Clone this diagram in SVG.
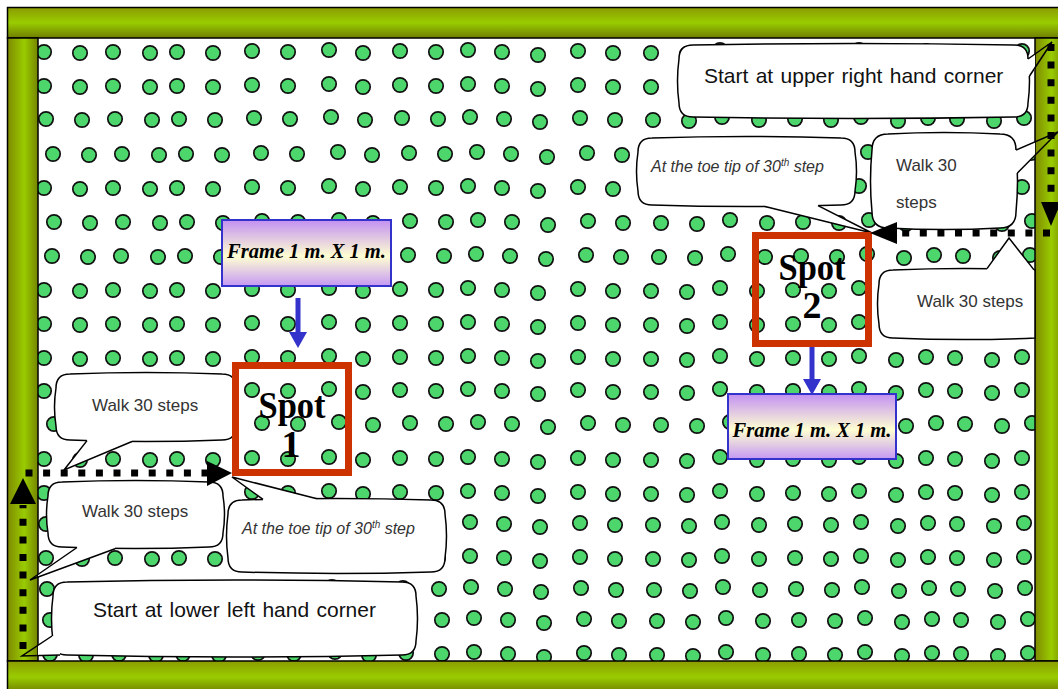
<svg xmlns="http://www.w3.org/2000/svg" width="1058" height="689" viewBox="0 0 1058 689">
<style>
.d{fill:#4cd66c;stroke:#111;stroke-width:1.7}
.bub{fill:#fff;stroke:#000;stroke-width:1.5}
.tf{fill:#fff;stroke:none}
.ts{fill:none;stroke:#000;stroke-width:1.5}
.t1{font-family:"Liberation Sans",Arial,sans-serif;font-size:21px;fill:#111;word-spacing:1.5px}
.t2{font-family:"Liberation Sans",Arial,sans-serif;font-size:17px;fill:#333}
.t3{font-family:"Liberation Sans",Arial,sans-serif;font-size:16px;font-style:italic;fill:#333}
.spot{fill:none;stroke:#cc3300;stroke-width:7}
.st{font-family:"Liberation Serif","Times New Roman",serif;font-weight:bold;font-size:38px;text-anchor:middle;fill:#000}
.fr{fill:url(#gF);stroke:#3333cc;stroke-width:2}
.ft{font-family:"Liberation Serif","Times New Roman",serif;font-weight:bold;font-style:italic;font-size:20.5px;text-anchor:middle;fill:#000}
.dash{stroke:#000;stroke-width:7;stroke-dasharray:7 10.6;fill:none}
.blue{stroke:#3333cc;stroke-width:5;fill:none}
.bar{stroke:#000;stroke-width:1.5}
</style>
<defs>
<linearGradient id="gV" x1="0" y1="0" x2="0" y2="1"><stop offset="0" stop-color="#8c9c00"/><stop offset="0.5" stop-color="#99cc00"/><stop offset="1" stop-color="#6f7d00"/></linearGradient>
<linearGradient id="gH" x1="0" y1="0" x2="1" y2="0"><stop offset="0" stop-color="#7f8a00"/><stop offset="0.55" stop-color="#99cc00"/><stop offset="1" stop-color="#758400"/></linearGradient>
<linearGradient id="gF" x1="0" y1="0" x2="0" y2="1"><stop offset="0" stop-color="#c290f2"/><stop offset="0.55" stop-color="#ffffd2"/><stop offset="1" stop-color="#c598f4"/></linearGradient>
<g id="row">
<circle class="d" cx="44" cy="0" r="7.2"/><circle class="d" cx="80" cy="1" r="7.2"/><circle class="d" cx="113" cy="0" r="7.2"/><circle class="d" cx="150" cy="1" r="7.2"/><circle class="d" cx="177" cy="0" r="7.2"/><circle class="d" cx="213" cy="1" r="7.2"/><circle class="d" cx="252" cy="-1" r="7.2"/><circle class="d" cx="288" cy="0" r="7.2"/><circle class="d" cx="329" cy="-2" r="7.2"/><circle class="d" cx="363" cy="1" r="7.2"/><circle class="d" cx="400" cy="-1" r="7.2"/><circle class="d" cx="436" cy="0" r="7.2"/><circle class="d" cx="468" cy="-2" r="7.2"/><circle class="d" cx="502" cy="0" r="7.2"/><circle class="d" cx="538" cy="3" r="7.2"/><circle class="d" cx="578" cy="-1" r="7.2"/><circle class="d" cx="613" cy="1" r="7.2"/><circle class="d" cx="651" cy="1" r="7.2"/><circle class="d" cx="687" cy="2" r="7.2"/><circle class="d" cx="720" cy="-2" r="7.2"/><circle class="d" cx="757" cy="1" r="7.2"/><circle class="d" cx="793" cy="0" r="7.2"/><circle class="d" cx="829" cy="1" r="7.2"/><circle class="d" cx="859" cy="-2" r="7.2"/><circle class="d" cx="896" cy="2" r="7.2"/><circle class="d" cx="926" cy="-1" r="7.2"/><circle class="d" cx="955" cy="0" r="7.2"/><circle class="d" cx="992" cy="2" r="7.2"/><circle class="d" cx="1022" cy="-1" r="7.2"/>
</g>
</defs>
<rect x="0" y="0" width="1058" height="689" fill="#fff"/>
<g id="dots">
<use href="#row" x="0" y="52"/><use href="#row" x="0" y="86"/><use href="#row" x="2" y="119"/><use href="#row" x="9" y="154"/><use href="#row" x="0" y="188"/><use href="#row" x="10" y="222"/><use href="#row" x="8" y="256"/><use href="#row" x="0" y="290"/><use href="#row" x="0" y="324"/><use href="#row" x="0" y="358"/><use href="#row" x="0" y="391"/><use href="#row" x="10" y="424"/><use href="#row" x="0" y="459"/><use href="#row" x="0" y="493"/><use href="#row" x="2" y="524"/><use href="#row" x="2" y="558"/><use href="#row" x="3" y="589"/><use href="#row" x="6" y="620"/><use href="#row" x="6" y="654"/>
</g>
<g id="frame">
<rect class="bar" x="7.5" y="7.5" width="1055" height="30.5" fill="url(#gV)"/>
<rect class="bar" x="7.5" y="38" width="30.5" height="623" fill="url(#gH)"/>
<rect class="bar" x="1035" y="38" width="30" height="623" fill="url(#gH)"/>
<rect class="bar" x="7.5" y="661" width="1055" height="32" fill="url(#gV)"/>
</g>
<g id="bubble-start-upper-right">
<path class="bub" d="M693,45 Q853.5,42 1014,45 Q1028,45 1028,59 Q1031,81 1028,103 Q1028,117 1014,117 Q853.5,120 693,117 Q679,117 679,103 Q676,81 679,59 Q679,45 693,45 Z"/>
<polygon class="tf" points="1028,59 1035,54 1035,69.3 1029.5,76 1024,76 1024,59"/>
<polyline class="ts" points="1028,59 1052,42 1029.5,76"/>
<text class="t1" x="704" y="83">Start at upper right hand corner</text>
</g>
<g id="bubble-toe-upper">
<path class="bub" d="M652,138 Q746.5,135 841,138 Q855,138 855,152 Q858,171.5 855,191 Q855,205 841,205 Q746.5,208 652,205 Q638,205 638,191 Q635,171.5 638,152 Q638,138 652,138 Z"/>
<polygon class="tf" points="765,206.4 872,233 818,205.6 818,200 765,200"/>
<polyline class="ts" points="765,206.4 872,233 818,205.6"/>
<text class="t3" x="651" y="172">At the toe tip of 30<tspan dy="-6" font-size="10">th</tspan><tspan dy="6"> step</tspan></text>
</g>
<g id="bubble-walk-right-upper">
<path class="bub" d="M888,134 Q944,131 1000,134 Q1016,134 1016,150 Q1019,181 1016,212 Q1016,228 1000,228 Q944,231 888,228 Q872,228 872,212 Q869,181 872,150 Q872,134 888,134 Z"/>
<polygon class="tf" points="1016,150 1035,141.9 1035,156.1 1017.4,173 1011,173 1011,150"/>
<polyline class="ts" points="1016,150 1058,132 1017.4,173"/>
<text class="t2" x="896" y="171">Walk 30</text>
<text class="t2" x="896" y="208">steps</text>
</g>
<g id="bubble-walk-right-lower">
<path class="bub" d="M893,270 Q964.5,267 1035,270 L1035,338 Q964.5,341 893,338 Q879,338 879,324 Q876,304 879,284 Q879,270 893,270 Z"/>
<polygon class="tf" points="987,268.6 1009,238 1034,269.9 1034,275 987,275"/>
<polyline class="ts" points="987,268.6 1009,238 1034,269.9"/>
<text class="t2" x="917" y="307">Walk 30 steps</text>
</g>
<g id="bubble-walk-left-upper">
<path class="bub" d="M70,374 Q146,371 222,374 Q236,374 236,388 L236,426 Q236,440 222,440 Q146,443 70,440 Q56,440 56,426 Q53,407 56,388 Q56,374 70,374 Z"/>
<polygon class="tf" points="87,440.6 64,470 132,441.5 132,435 87,435"/>
<polyline class="ts" points="87,440.6 64,470 132,441.5"/>
<text class="t2" x="92" y="411">Walk 30 steps</text>
</g>
<g id="bubble-walk-left-lower">
<path class="bub" d="M62,482 Q135.5,479 209,482 Q223,482 223,496 Q226,514.5 223,533 Q223,547 209,547 Q135.5,550 62,547 Q48,547 48,533 Q45,514.5 48,496 Q48,482 62,482 Z"/>
<polygon class="tf" points="77,547.5 38,574.3 38,577.1 115,548.7 115,542 77,542"/>
<polyline class="ts" points="77,547.5 30,580 115,548.7"/>
<text class="t2" x="82" y="517">Walk 30 steps</text>
</g>
<g id="bubble-toe-lower">
<path class="bub" d="M242,500 Q336.5,497 431,500 Q445,500 445,514 Q448,536 445,558 Q445,572 431,572 Q336.5,575 242,572 Q228,572 228,558 Q225,536 228,514 Q228,500 242,500 Z"/>
<polygon class="tf" points="263,499.4 232,477 317,498.8 317,506 263,506"/>
<polyline class="ts" points="263,499.4 232,477 317,498.8"/>
<text class="t3" x="242" y="534">At the toe tip of 30<tspan dy="-6" font-size="10">th</tspan><tspan dy="6"> step</tspan></text>
</g>
<g id="bubble-start-lower-left">
<path class="bub" d="M67,582 Q234.5,578 402,582 Q416,582 416,596 Q419,618.5 416,641 Q416,655 402,655 Q234.5,659 67,655 Q53,655 53,641 Q50,618.5 53,596 Q53,582 67,582 Z"/>
<polygon class="tf" points="52,636 38,645 38,655.6 60,655 60,648 57,636"/>
<polyline class="ts" points="52,636 22,656 60,655"/>
<text class="t1" x="93" y="617">Start at lower left hand corner</text>
</g>
<g id="spot-1">
<rect class="spot" x="235.5" y="365.5" width="113" height="107"/>
<text class="st" x="292" y="418" textLength="67" lengthAdjust="spacingAndGlyphs">Spot</text>
<text class="st" x="291" y="457">1</text>
</g>
<g id="spot-2">
<rect class="spot" x="755.5" y="235.5" width="113" height="108"/>
<text class="st" x="812" y="280" textLength="67" lengthAdjust="spacingAndGlyphs">Spot</text>
<text class="st" x="812" y="318">2</text>
</g>
<g id="frame-label-1">
<rect class="fr" x="222" y="220" width="169" height="66"/>
<text class="ft" x="306.5" y="258">Frame 1 m. X 1 m.</text>
</g>
<g id="frame-label-2">
<rect class="fr" x="728" y="394" width="168" height="65"/>
<text class="ft" x="812" y="437">Frame 1 m. X 1 m.</text>
</g>
<g id="connectors">
<line class="blue" x1="298" y1="298" x2="298" y2="334"/>
<polygon points="289,332 307,332 298,348" fill="#3333cc"/>
<line class="blue" x1="812" y1="347" x2="812" y2="381"/>
<polygon points="803,379 821,379 812,395" fill="#3333cc"/>
<line class="dash" x1="23" y1="649" x2="23" y2="505"/>
<polygon points="23,478 36,504 10,504" fill="#000"/>
<line class="dash" x1="25.5" y1="473" x2="207" y2="473"/>
<polygon points="232,473 207,461 207,486" fill="#000"/>
<line class="dash" x1="1051" y1="44" x2="1051" y2="200"/>
<polygon points="1051,226 1041,202 1061,202" fill="#000"/>
<line class="dash" x1="1050" y1="233" x2="897" y2="233"/>
<polygon points="870,233 897,222 897,244" fill="#000"/>
</g>
</svg>
